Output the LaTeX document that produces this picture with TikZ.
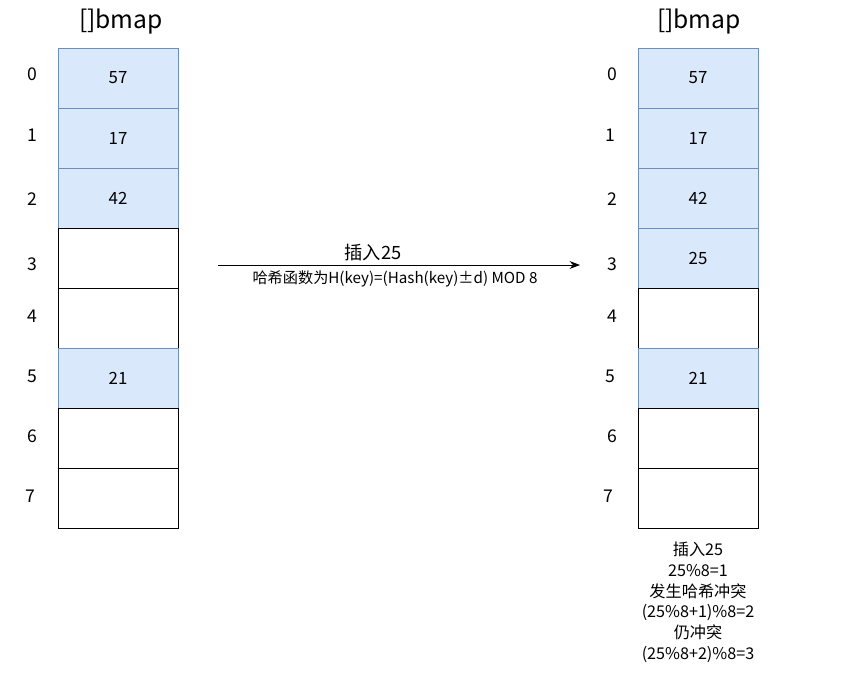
\documentclass[tikz,border=0pt]{standalone}
\usepackage{fontspec}
\setmainfont{Noto Sans CJK SC}
\usepackage{tikz}
\usetikzlibrary{arrows.meta, positioning}
\definecolor{cFill}{HTML}{DAE8FC}
\definecolor{cLine}{HTML}{6C8EBF}
\tikzset{
	cellB/.style ={rectangle, draw=cLine, fill=cFill, minimum width=3cm, minimum height=1.5cm, outer sep=0pt, inner sep=0pt, font=\fontsize{12}{14}\selectfont},
	cellE/.style ={rectangle, draw=black, fill=white, minimum width=3cm, minimum height=1.5cm, outer sep=0pt, inner sep=0pt},
	idx/.style   ={font=\fontsize{12.5}{14}\selectfont},
	ttl/.style   ={font=\fontsize{17.5}{20}\selectfont},
	insarrow/.style={-{Stealth[length=2.6mm]}, semithick},
}

\begin{document}
\begin{tikzpicture}[x=0.025cm, y=-0.025cm]
	\useasboundingbox (0,0) rectangle (860,692);
	% ---------- left bitmap ----------
	\node[ttl] (lt) at (121,22) {[]bmap};
	\node[cellB] (l0) at (118,78) {57};
	\node[cellB, below=0pt of l0] (l1) {17};
	\node[cellB, below=0pt of l1] (l2) {42};
	\node[cellE, below=0pt of l2] (l3) {};
	\node[cellE, below=0pt of l3] (l4) {};
	\node[cellB, below=0pt of l4] (l5) {21};
	\node[cellE, below=0pt of l5] (l6) {};
	\node[cellE, below=0pt of l6] (l7) {};
	\node[idx] (li0) at (32,74) {0};
	\node[idx] (li1) at (32,135) {1};
	\node[idx] (li2) at (32,199) {2};
	\node[idx] (li3) at (32,264) {3};
	\node[idx] (li4) at (32,316) {4};
	\node[idx] (li5) at (32,376) {5};
	\node[idx] (li6) at (32,436) {6};
	\node[idx] (li7) at (30,496) {7};
	% ---------- right bitmap ----------
	\node[ttl] (rt) at (699,22) {[]bmap};
	\node[cellB] (r0) at (698,78) {57};
	\node[cellB, below=0pt of r0] (r1) {17};
	\node[cellB, below=0pt of r1] (r2) {42};
	\node[cellB, below=0pt of r2] (r3) {25};
	\node[cellE, below=0pt of r3] (r4) {};
	\node[cellB, below=0pt of r4] (r5) {21};
	\node[cellE, below=0pt of r5] (r6) {};
	\node[cellE, below=0pt of r6] (r7) {};
	\node[idx] (ri0) at (612,74) {0};
	\node[idx] (ri1) at (610,135) {1};
	\node[idx] (ri2) at (612,199) {2};
	\node[idx] (ri3) at (612,264) {3};
	\node[idx] (ri4) at (612,316) {4};
	\node[idx] (ri5) at (610,376) {5};
	\node[idx] (ri6) at (612,436) {6};
	\node[idx] (ri7) at (608,496) {7};
	% ---------- insert arrow ----------
	\coordinate (as) at (218,265);
	\coordinate (ae) at (580,265);
	\draw[insarrow] (as) -- (ae);
	\node[font=\fontsize{13}{15}\selectfont] (ins) at (373,253) {插入25};
	\node[font=\fontsize{10.8}{12}\selectfont] (hfn) at (395,279) {哈希函数为H(key)=(Hash(key)±d) MOD 8};
	% ---------- note ----------
	\node[align=center, font=\fontsize{11.5}{14.9}\selectfont, below=6pt of r7.south, anchor=north] (note) {插入25\\25\%8=1\\发生哈希冲突\\(25\%8+1)\%8=2\\仍冲突\\(25\%8+2)\%8=3};
\end{tikzpicture}
\end{document}
